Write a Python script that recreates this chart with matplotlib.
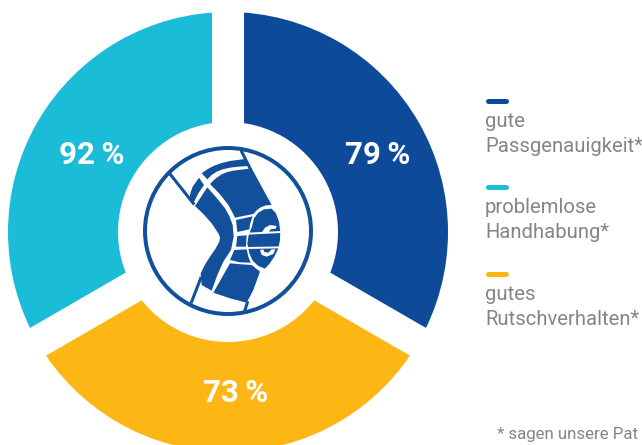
import matplotlib
matplotlib.use('Agg')

import matplotlib.pyplot as plt
from matplotlib.patches import Circle, Polygon

# survey results, one equal sector per statement
categories = ["gute\nPassgenauigkeit*", "problemlose\nHandhabung*", "gutes\nRutschverhalten*"]
percent = [79, 92, 73]
sector_shares = [1, 1, 1]
colors = ["#0d4a9a", "#1bbcd8", "#fdb714"]
footnote = "* sagen unsere Pat"

CX, CY = 228, 232
ICON_BLUE = "#13509b"
TEXT_GREY = "#858585"

plt.rcParams['font.family'] = ['Roboto', 'DejaVu Sans']

fig = plt.figure(figsize=(6.42, 4.45), dpi=100)
ax = fig.add_axes([0, 0, 1, 1])

ax.pie(sector_shares, colors=colors, startangle=30, counterclock=False,
       center=(CX, CY), radius=220, wedgeprops=dict(width=110, linewidth=0))
ax.set_xlim(0, 642)
ax.set_ylim(445, 0)
ax.set_aspect('equal')
ax.axis('off')

# parallel white gaps between the sectors
for dx, dy in [(0, -230), (199, 115), (-199, 115)]:
    ax.plot([CX, CX + dx], [CY, CY + dy], color='white', lw=32 * 72 / 100,
            solid_capstyle='butt', zorder=3)

# percentage labels
label_xy = [(378, 155), (92, 155), (236, 393)]
for (x, y), p in zip(label_xy, percent):
    ax.text(x, y, "%d\u2009%%" % p, color='white', fontsize=22.5, fontweight='bold',
            ha='center', va='center', zorder=4)

# knee icon, outlined in 200x190 box units
def icon(pts):
    return [(x / 3.0 + 130, y / 3.0 + 130) for x, y in pts]

ax.add_patch(Circle((CX, 231), 83, fc='white', ec=ICON_BLUE, lw=4 * 0.72, zorder=5))

knee_parts = [
    # top band
    [(215, 130), (232, 118), (250, 108), (275, 99), (300, 93), (345, 87), (358, 108),
     (325, 110), (300, 113), (278, 118), (260, 125), (245, 135), (232, 148)],
    [(207, 143), (222, 165), (205, 190), (190, 220), (178, 205), (182, 187), (188, 170)],
    # thigh
    [(240, 162), (256, 146), (275, 133), (292, 126), (310, 122), (365, 115), (425, 225),
     (408, 226), (392, 232), (380, 241), (370, 252), (315, 263), (306, 245), (295, 225),
     (270, 193)],
    # back of the knee
    [(232, 172), (262, 206), (285, 235), (298, 258), (308, 285), (311, 320), (303, 360),
     (280, 395), (262, 435), (245, 482), (215, 465), (212, 430), (226, 402), (240, 380),
     (256, 357), (268, 335), (270, 322), (265, 310), (245, 280), (220, 252), (195, 228)],
    # strips beside the kneecap
    [(318, 270), (368, 259), (360, 282), (358, 298), (322, 306)],
    [(322, 318), (350, 316), (348, 350), (318, 350)],
    [(313, 360), (350, 358), (355, 380), (362, 398), (330, 397), (300, 390)],
    # kneecap
    [(366, 290), (372, 265), (385, 248), (402, 238), (425, 236), (438, 250), (447, 275),
     (451, 305), (450, 330), (445, 355), (433, 380), (418, 402), (405, 416), (385, 408),
     (368, 392), (358, 370), (352, 340), (356, 315)],
    # shin
    [(300, 400), (335, 403), (365, 405), (390, 425), (370, 480), (350, 518), (300, 505),
     (250, 488)],
]
for part in knee_parts:
    ax.add_patch(Polygon(icon(part), closed=True, fc=ICON_BLUE, ec='none', zorder=6))

# cut-outs in the kneecap
knee_cuts = [
    [(395, 308), (405, 293), (420, 285), (440, 288), (437, 296), (422, 298), (415, 308)],
    [(390, 360), (395, 375), (410, 380), (430, 372), (436, 358), (425, 358), (415, 368),
     (403, 366), (400, 358)],
]
for part in knee_cuts:
    ax.add_patch(Polygon(icon(part), closed=True, fc='white', ec='none', zorder=7))

for line in [[(352, 311), (455, 306)], [(350, 354), (455, 352)]]:
    xs, ys = zip(*icon(line))
    ax.plot(xs, ys, color='white', lw=1.4, zorder=7)

knee_lines = [
    [(120, 132), (190, 220)],
    [(335, 65), (360, 115)],
    [(212, 445), (185, 515)],
    [(352, 518), (345, 540)],
]
for line in knee_lines:
    xs, ys = zip(*icon(line))
    ax.plot(xs, ys, color=ICON_BLUE, lw=2.2, zorder=6)

# legend
legend_y = [101, 187, 274]
for y, name, c in zip(legend_y, categories, colors):
    ax.plot([487.5, 505.5], [y, y], color=c, lw=3.6, solid_capstyle='round', zorder=3)
    ax.text(485, y + 33, name, color=TEXT_GREY, fontsize=14.6,
            ha='left', va='center', linespacing=1.36, zorder=3)

ax.text(497, 435, footnote, color=TEXT_GREY, fontsize=12.2, ha='left', va='center')

fig.savefig('out.png', dpi=100)
